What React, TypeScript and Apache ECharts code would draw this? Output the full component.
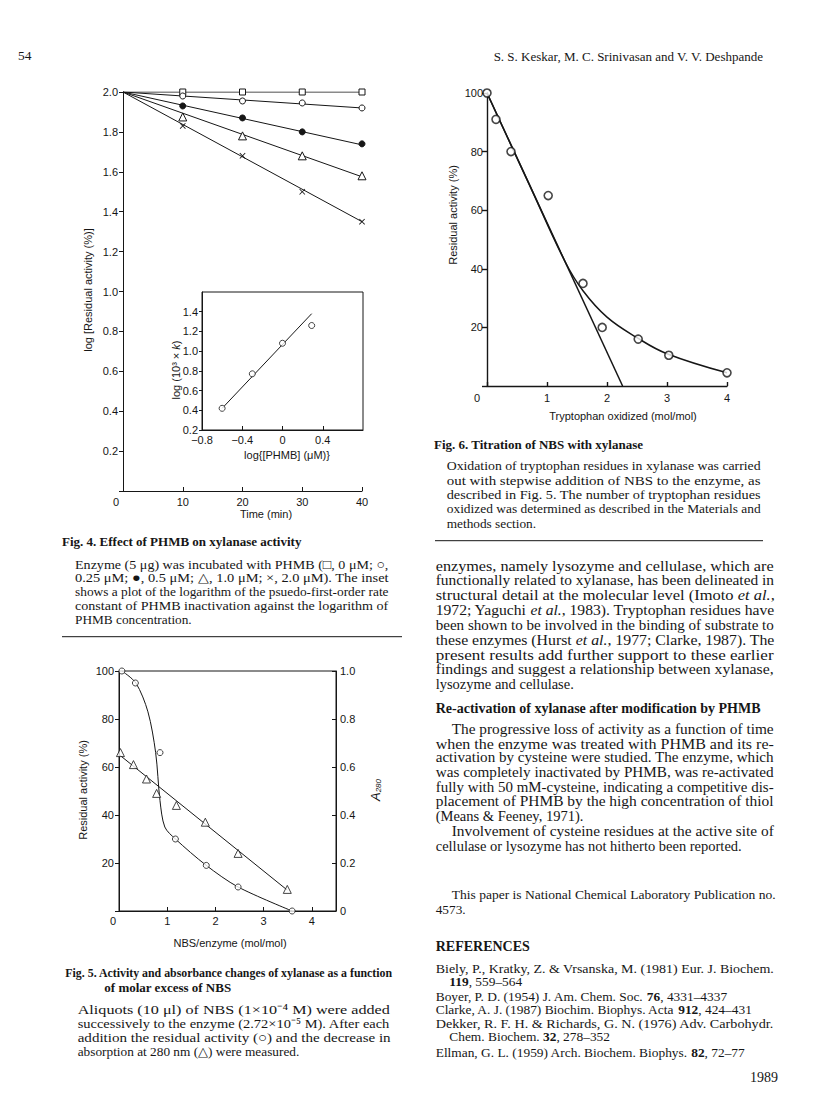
import React, { useEffect, useRef } from 'react';
import * as echarts from 'echarts';

const SANS = '"Liberation Sans", Arial, Helvetica, sans-serif';
const SERIF = '"Liberation Serif", "Times New Roman", serif';
const INK = '#161616';

// ---------- Fig. 4 (main) ----------
const fig4Time = [10, 20, 30, 40];
const fig4Square = [2.0, 2.0, 2.0, 2.0];
const fig4OpenCircle = [1.98, 1.955, 1.945, 1.92];
const fig4FilledCircle = [1.93, 1.87, 1.8, 1.74];
const fig4Triangle = [1.875, 1.78, 1.68, 1.58];
const fig4Cross = [1.83, 1.68, 1.5, 1.35];
const fig4FitTime = [0, 40];
const fig4FitStart = 2.0;
const fig4FitEnd = [2.0, 1.92, 1.735, 1.575, 1.35];

// ---------- Fig. 4 (inset) ----------
const insetLogPHMB = [-0.6, -0.3, 0, 0.29];
const insetLogK = [0.42, 0.77, 1.08, 1.26];
const insetFitX = [-0.6, 0.29];
const insetFitY = [0.42, 1.38];

// ---------- Fig. 6 ----------
const fig6Trp = [0, 0.15, 0.4, 1.02, 1.6, 1.92, 2.52, 3.03, 4.0];
const fig6Activity = [100, 91, 80, 65, 35, 20, 16, 10.5, 4.5];
const fig6LineX = [0, 2.26];
const fig6LineY = [100, 0];
const fig6CurveX = [0, 0.7, 1.3, 1.6, 2.0, 2.5, 3.0, 4.0];
const fig6CurveY = [100, 69, 42.5, 32.5, 23.5, 16.5, 11, 4.5];

// ---------- Fig. 5 ----------
const fig5ActX = [0.06, 0.34, 0.85, 1.17, 1.81, 2.47, 3.59];
const fig5ActY = [100, 95, 66, 30, 19, 10, 0];
const fig5CurveX = [0.06, 0.35, 0.6, 0.76, 0.85, 0.95, 1.17, 1.81, 2.47, 3.59];
const fig5CurveY = [100, 95, 83, 66, 46, 35, 30, 19, 10, 0];
const fig5A280X = [0.03, 0.3, 0.57, 0.78, 1.19, 1.79, 2.47, 3.49];
const fig5A280Y = [0.66, 0.61, 0.55, 0.49, 0.44, 0.37, 0.24, 0.09];
const fig5A280FitX = [0, 3.49];
const fig5A280FitY = [0.652, 0.087];

// ---------- Texts ----------
const headerPage = '54';
const headerAuthors = 'S. S. Keskar, M. C. Srinivasan and V. V. Deshpande';
const fig4Title = 'Fig. 4. Effect of PHMB on xylanase activity';
const fig4Caption = [
  'Enzyme (5 μg) was incubated with PHMB (□, 0 μM; ○,',
  '0.25 μM; ●, 0.5 μM; △, 1.0 μM; ×, 2.0 μM). The inset',
  'shows a plot of the logarithm of the psuedo-first-order rate',
  'constant of PHMB inactivation against the logarithm of',
  'PHMB concentration.',
];
const fig5Title = [
  'Fig. 5. Activity and absorbance changes of xylanase as a function',
  'of molar excess of NBS',
];
const fig5Caption = [
  'Aliquots (10 μl) of NBS (1×10⁻⁴ M) were added',
  'successively to the enzyme (2.72×10⁻⁵ M). After each',
  'addition the residual activity (○) and the decrease in',
  'absorption at 280 nm (△) were measured.',
];
const fig6Title = 'Fig. 6. Titration of NBS with xylanase';
const fig6Caption = [
  'Oxidation of tryptophan residues in xylanase was carried',
  'out with stepwise addition of NBS to the enzyme, as',
  'described in Fig. 5. The number of tryptophan residues',
  'oxidized was determined as described in the Materials and',
  'methods section.',
];
const bodyLines = [
  'enzymes, namely lysozyme and cellulase, which are',
  'functionally related to xylanase, has been delineated in',
  'structural detail at the molecular level (Imoto {i|et al.},',
  '1972; Yaguchi {i|et al.}, 1983). Tryptophan residues have',
  'been shown to be involved in the binding of substrate to',
  'these enzymes (Hurst {i|et al.}, 1977; Clarke, 1987). The',
  'present results add further support to these earlier',
  'findings and suggest a relationship between xylanase,',
  'lysozyme and cellulase.',
];
const sectionHeading = 'Re-activation of xylanase after modification by PHMB';
const sectionLines = [
  'The progressive loss of activity as a function of time',
  'when the enzyme was treated with PHMB and its re-',
  'activation by cysteine were studied. The enzyme, which',
  'was completely inactivated by PHMB, was re-activated',
  'fully with 50 mM-cysteine, indicating a competitive dis-',
  'placement of PHMB by the high concentration of thiol',
  '(Means & Feeney, 1971).',
  'Involvement of cysteine residues at the active site of',
  'cellulase or lysozyme has not hitherto been reported.',
];
const sectionIndent = [true, false, false, false, false, false, false, true, false];
const sectionJustify = [true, true, true, true, true, true, false, true, false];
const noteLines = ['This paper is National Chemical Laboratory Publication no.', '4573.'];
const refHeading = 'REFERENCES';
const refLines = [
  'Biely, P., Kratky, Z. & Vrsanska, M. (1981) Eur. J. Biochem.',
  '{b|119}, 559–564',
  'Boyer, P. D. (1954) J. Am. Chem. Soc. {b|76}, 4331–4337',
  'Clarke, A. J. (1987) Biochim. Biophys. Acta {b|912}, 424–431',
  'Dekker, R. F. H. & Richards, G. N. (1976) Adv. Carbohydr.',
  'Chem. Biochem. {b|32}, 278–352',
  'Ellman, G. L. (1959) Arch. Biochem. Biophys. {b|82}, 72–77',
];
const refIndent = [false, true, false, false, false, true, false];
const refJustify = [true, false, false, false, true, false, false];
const footerYear = '1989';

const pairs = (xs: number[], ys: number[]) => xs.map((x, i) => [x, ys[i]]);

let measureCtx: CanvasRenderingContext2D | null = null;
function measure(text: string, font: string): number {
  if (!measureCtx) {
    const c = document.createElement('canvas');
    measureCtx = c.getContext('2d');
  }
  if (!measureCtx) return 0;
  measureCtx.font = font;
  return measureCtx.measureText(text.replace(/\{[a-z]+\|([^}]*)\}/g, '$1')).width;
}

function txt(text: string, x: number, y: number, o: any = {}) {
  const fontSize = o.fontSize ?? 13.5;
  const fontFamily = o.fontFamily ?? SERIF;
  const fontWeight = o.fontWeight ?? 'normal';
  const align = o.align ?? 'left';
  let scaleX = 1;
  if (o.fit) {
    const w = measure(text, `${fontWeight} ${fontSize}px ${fontFamily}`);
    if (w > 0) {
      const r = (o.fit - x) / w;
      if (r > 0.85 && r < 1.23) scaleX = r;
    }
  }
  return {
    type: 'text',
    x,
    y,
    rotation: o.rotation ?? 0,
    scaleX,
    silent: true,
    style: {
      text,
      fill: INK,
      fontSize,
      fontFamily,
      fontWeight,
      fontStyle: o.fontStyle ?? 'normal',
      align,
      textAlign: align,
      verticalAlign: 'middle',
      textVerticalAlign: 'middle',
      rich: {
        i: { fontStyle: 'italic', fontSize, fontFamily, fill: INK },
        b: { fontWeight: 'bold', fontSize, fontFamily, fill: INK },
        ...(o.rich || {}),
      },
    },
  };
}

function rule(x1: number, x2: number, y: number) {
  return { type: 'line', silent: true, shape: { x1, y1: y, x2, y2: y }, style: { stroke: INK, lineWidth: 1 } };
}

const labelBase = { color: INK, fontFamily: SANS, fontSize: 11 };
const lineAxis = { show: true, onZero: false, lineStyle: { color: INK, width: 1 } };
const zeroShift = (pad: number) => ({
  ...labelBase,
  formatter: (v: number) => (v === 0 ? '{z|0}' : String(v)),
  rich: { z: { padding: [0, pad, 0, 0], fontFamily: SANS, fontSize: 11, color: INK } },
});

const CROSS = 'path://M1,0L5,4L9,0L10,1L6,5L10,9L9,10L5,6L1,10L0,9L4,5L0,1Z';

function buildOption() {
  const fig4Sets = [
    { data: fig4Square, symbol: 'rect', size: 6, fill: '#fff', bw: 1 },
    { data: fig4OpenCircle, symbol: 'circle', size: 6, fill: '#fff', bw: 1 },
    { data: fig4FilledCircle, symbol: 'circle', size: 6, fill: INK, bw: 1 },
    { data: fig4Triangle, symbol: 'triangle', size: 8, fill: '#fff', bw: 1 },
    { data: fig4Cross, symbol: CROSS, size: 6, fill: INK, bw: 0 },
  ];
  const series: any[] = [];
  fig4Sets.forEach((s, i) => {
    series.push({
      type: 'line', xAxisIndex: 0, yAxisIndex: 0, silent: true, symbol: 'none',
      lineStyle: { color: INK, width: 1 },
      data: [[fig4FitTime[0], fig4FitStart], [fig4FitTime[1], fig4FitEnd[i]]],
    });
  });
  fig4Sets.forEach((s) => {
    series.push({
      type: 'scatter', xAxisIndex: 0, yAxisIndex: 0, silent: true, z: 3,
      symbol: s.symbol, symbolSize: s.size,
      itemStyle: { color: s.fill, borderColor: INK, borderWidth: s.bw, opacity: 1 },
      data: pairs(fig4Time, s.data),
    });
  });
  // inset
  series.push({
    type: 'line', xAxisIndex: 1, yAxisIndex: 1, silent: true, symbol: 'none',
    lineStyle: { color: INK, width: 1 }, data: pairs(insetFitX, insetFitY),
  });
  series.push({
    type: 'scatter', xAxisIndex: 1, yAxisIndex: 1, silent: true, z: 3, symbol: 'circle', symbolSize: 6,
    itemStyle: { color: '#fff', borderColor: INK, borderWidth: 1 }, data: pairs(insetLogPHMB, insetLogK),
  });
  // fig 6
  series.push({
    type: 'line', xAxisIndex: 2, yAxisIndex: 2, silent: true, symbol: 'none',
    lineStyle: { color: INK, width: 1.5 }, data: pairs(fig6LineX, fig6LineY),
  });
  series.push({
    type: 'line', xAxisIndex: 2, yAxisIndex: 2, silent: true, symbol: 'none', smooth: 0.4,
    lineStyle: { color: INK, width: 1.5 }, data: pairs(fig6CurveX, fig6CurveY),
  });
  series.push({
    type: 'scatter', xAxisIndex: 2, yAxisIndex: 2, silent: true, z: 3, symbol: 'circle', symbolSize: 8,
    itemStyle: { color: '#fff', borderColor: INK, borderWidth: 1.6 }, data: pairs(fig6Trp, fig6Activity),
  });
  // fig 5
  series.push({
    type: 'line', xAxisIndex: 3, yAxisIndex: 3, silent: true, symbol: 'none', smooth: 0.3,
    lineStyle: { color: INK, width: 1 }, data: pairs(fig5CurveX, fig5CurveY),
  });
  series.push({
    type: 'scatter', xAxisIndex: 3, yAxisIndex: 3, silent: true, z: 3, symbol: 'circle', symbolSize: 6,
    itemStyle: { color: '#fff', borderColor: INK, borderWidth: 1 }, data: pairs(fig5ActX, fig5ActY),
  });
  series.push({
    type: 'line', xAxisIndex: 3, yAxisIndex: 4, silent: true, symbol: 'none',
    lineStyle: { color: INK, width: 1 }, data: pairs(fig5A280FitX, fig5A280FitY),
  });
  series.push({
    type: 'scatter', xAxisIndex: 3, yAxisIndex: 4, silent: true, z: 3, symbol: 'triangle', symbolSize: 8,
    itemStyle: { color: '#fff', borderColor: INK, borderWidth: 1 }, data: pairs(fig5A280X, fig5A280Y),
  });

  const g: any[] = [];
  // header
  g.push(txt(headerPage, 18, 55, { fontSize: 13.5 }));
  g.push(txt(headerAuthors, 763, 56, { fontSize: 13, align: 'right' }));
  // axis titles
  g.push(txt('log [Residual activity (%)]', 88, 290, { fontFamily: SANS, fontSize: 11, align: 'center', rotation: Math.PI / 2 }));
  g.push(txt('Time (min)', 266, 514, { fontFamily: SANS, fontSize: 11, align: 'center' }));
  g.push(txt('log (10³ × {k|k})', 176, 370, {
    fontFamily: SANS, fontSize: 11, align: 'center', rotation: Math.PI / 2,
    rich: { k: { fontStyle: 'italic', fontFamily: SANS, fontSize: 11, fill: INK } },
  }));
  g.push(txt('log{[PHMB] (μM)}', 287, 455, { fontFamily: SANS, fontSize: 11, align: 'center' }));
  g.push(txt('Residual activity (%)', 453, 215, { fontFamily: SANS, fontSize: 11, align: 'center', rotation: Math.PI / 2 }));
  g.push(txt('Tryptophan oxidized (mol/mol)', 623, 416, { fontFamily: SANS, fontSize: 11, align: 'center' }));
  g.push(txt('Residual activity (%)', 83, 790, { fontFamily: SANS, fontSize: 11, align: 'center', rotation: Math.PI / 2 }));
  g.push(txt('{a|A}{s|280}', 375, 790, {
    fontFamily: SANS, fontSize: 11, align: 'center', rotation: Math.PI / 2,
    rich: {
      a: { fontStyle: 'italic', fontFamily: SANS, fontSize: 13, fill: INK },
      s: { fontStyle: 'italic', fontFamily: SANS, fontSize: 8, fill: INK, padding: [6, 0, 0, 0] },
    },
  }));
  g.push(txt('NBS/enzyme (mol/mol)', 230, 943, { fontFamily: SANS, fontSize: 11, align: 'center' }));

  // Fig 4 caption
  g.push(txt(fig4Title, 62, 541, { fontWeight: 'bold', fontSize: 13 }));
  const f4y = [564.3, 577.9, 591.5, 605.4, 619.5];
  fig4Caption.forEach((l, i) =>
    g.push(txt(l, 75, f4y[i], { fontSize: 13.3, fit: i < fig4Caption.length - 1 ? 388.5 : undefined })),
  );
  g.push(rule(62, 402, 636.7));
  // Fig 5 caption
  g.push(txt(fig5Title[0], 65.3, 973.3, { fontWeight: 'bold', fontSize: 13, fit: 393 }));
  g.push(txt(fig5Title[1], 104.3, 987.7, { fontWeight: 'bold', fontSize: 13 }));
  const f5y = [1010, 1023.8, 1037.6, 1051.4];
  fig5Caption.forEach((l, i) =>
    g.push(txt(l, 77.7, f5y[i], { fontSize: 13.3, fit: i < fig5Caption.length - 1 ? 390.7 : undefined })),
  );
  // Fig 6 caption
  g.push(txt(fig6Title, 434, 444, { fontWeight: 'bold', fontSize: 13 }));
  const f6y = [465.7, 480, 494.2, 508.4, 523.3];
  fig6Caption.forEach((l, i) =>
    g.push(txt(l, 446.7, f6y[i], { fontSize: 13.3, fit: i < fig6Caption.length - 1 ? 760.7 : undefined })),
  );
  g.push(rule(435, 763, 540.7));
  // body text
  const by = [565.7, 580.3, 595.2, 610, 625, 639.8, 654.5, 669.3, 684];
  bodyLines.forEach((l, i) =>
    g.push(txt(l, 435.7, by[i], { fontSize: 14.5, fit: i < bodyLines.length - 1 ? 774 : undefined })),
  );
  g.push(txt(sectionHeading, 435.7, 708.3, { fontWeight: 'bold', fontSize: 14 }));
  const sy = [729, 743.3, 757.5, 771.9, 786.6, 801.5, 816, 831.5, 845.7];
  sectionLines.forEach((l, i) =>
    g.push(txt(l, sectionIndent[i] ? 451.7 : 435.7, sy[i], { fontSize: 14.5, fit: sectionJustify[i] ? 774 : undefined })),
  );
  g.push(txt(noteLines[0], 451.7, 895, { fontSize: 13.3, fit: 776 }));
  g.push(txt(noteLines[1], 435.7, 909.3, { fontSize: 13.3 }));
  g.push(txt(refHeading, 435.7, 946.7, { fontWeight: 'bold', fontSize: 14 }));
  const ry = [968.3, 981, 996, 1009.3, 1024, 1036.7, 1052];
  refLines.forEach((l, i) =>
    g.push(txt(l, refIndent[i] ? 449.3 : 435.7, ry[i], { fontSize: 13.4, fit: refJustify[i] ? 774 : undefined })),
  );
  g.push(txt(footerYear, 778, 1077, { fontSize: 14, align: 'right' }));

  return {
    animation: false,
    backgroundColor: '#fff',
    grid: [
      { left: 123, top: 92, width: 239, height: 399 },
      { left: 202, top: 292, width: 161, height: 138, show: true, borderColor: INK, borderWidth: 1, backgroundColor: '#fff' },
      { left: 487, top: 93, width: 240, height: 293 },
      { left: 119, top: 671, width: 217, height: 240, show: true, borderColor: INK, borderWidth: 1, backgroundColor: 'transparent' },
    ],
    xAxis: [
      {
        type: 'value', gridIndex: 0, min: 0, max: 40, interval: 10,
        axisLine: lineAxis, axisTick: { show: true, inside: true, length: 4, lineStyle: { color: INK } },
        splitLine: { show: false }, axisLabel: { ...zeroShift(14), margin: 5 },
      },
      {
        type: 'value', gridIndex: 1, min: -0.8, max: 0.8, interval: 0.4,
        axisLine: lineAxis, axisTick: { show: true, inside: true, length: 4, lineStyle: { color: INK } },
        splitLine: { show: false },
        axisLabel: {
          ...labelBase, margin: 4, showMaxLabel: false,
          formatter: (v: number) => (Math.abs(v) < 1e-9 ? '0' : v < 0 ? '\u2212' + Math.abs(v).toFixed(1) : v > 0.75 ? '' : v.toFixed(1)),
        },
      },
      {
        type: 'value', gridIndex: 2, min: 0, max: 4, interval: 1,
        axisLine: { show: true, onZero: false, lineStyle: { color: INK, width: 1.4 } },
        axisTick: { show: true, inside: true, length: 4, lineStyle: { color: INK, width: 1.4 } },
        splitLine: { show: false }, axisLabel: { ...zeroShift(20), margin: 6 },
      },
      {
        type: 'value', gridIndex: 3, min: 0, max: 4.5, interval: 1,
        axisLine: lineAxis, axisTick: { show: true, inside: true, length: 4, lineStyle: { color: INK } },
        splitLine: { show: false }, axisLabel: { ...zeroShift(12), margin: 4, showMaxLabel: false },
      },
    ],
    yAxis: [
      {
        type: 'value', gridIndex: 0, min: 0, max: 2, interval: 0.2,
        axisLine: lineAxis, axisTick: { show: true, inside: false, length: 4, lineStyle: { color: INK } },
        splitLine: { show: false },
        axisLabel: { ...labelBase, margin: 5, formatter: (v: number) => (v === 0 ? '' : v.toFixed(1)) },
      },
      {
        type: 'value', gridIndex: 1, min: 0.2, max: 1.6, interval: 0.2,
        axisLine: lineAxis, axisTick: { show: true, inside: false, length: 3, lineStyle: { color: INK } },
        splitLine: { show: false },
        axisLabel: { ...labelBase, margin: 4, showMaxLabel: false, formatter: (v: number) => (v > 1.55 ? '' : v.toFixed(1)) },
      },
      {
        type: 'value', gridIndex: 2, min: 0, max: 100, interval: 20,
        axisLine: { show: true, onZero: false, lineStyle: { color: INK, width: 1.4 } },
        axisTick: { show: true, inside: false, length: 5, lineStyle: { color: INK, width: 1.4 } },
        splitLine: { show: false },
        axisLabel: { ...labelBase, margin: 4, formatter: (v: number) => (v === 0 ? '' : String(v)) },
      },
      {
        type: 'value', gridIndex: 3, min: 0, max: 100, interval: 20,
        axisLine: lineAxis, axisTick: { show: true, inside: false, length: 4, lineStyle: { color: INK } },
        splitLine: { show: false },
        axisLabel: { ...labelBase, margin: 5, formatter: (v: number) => (v === 0 ? '' : String(v)) },
      },
      {
        type: 'value', gridIndex: 3, position: 'right', min: 0, max: 1, interval: 0.2,
        axisLine: lineAxis, axisTick: { show: true, inside: true, length: 4, lineStyle: { color: INK } },
        splitLine: { show: false },
        axisLabel: { ...labelBase, margin: 4, formatter: (v: number) => (v === 0 ? '0' : v.toFixed(1)) },
      },
    ],
    series,
    graphic: { elements: g },
  };
}

export default function App() {
  const ref = useRef<HTMLDivElement>(null);
  useEffect(() => {
    if (!ref.current) return;
    const chart = echarts.init(ref.current, null, { renderer: 'svg', width: 816, height: 1103 });
    chart.setOption(buildOption() as any);
    return () => chart.dispose();
  }, []);
  return (
    <div
      ref={ref}
      style={{ position: 'absolute', left: 0, top: 0, width: 816, height: 1103, background: '#fff' }}
    />
  );
}
